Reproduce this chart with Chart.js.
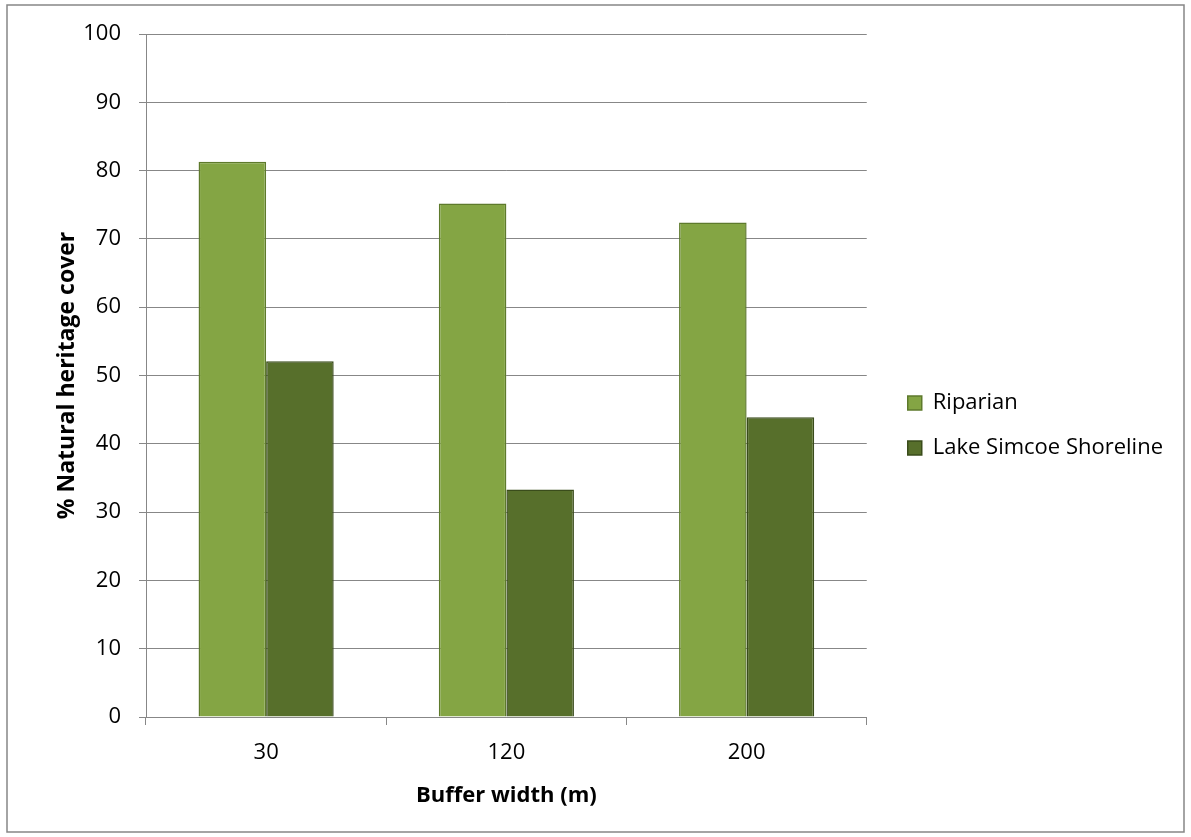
<!DOCTYPE html>
<html>
<head>
<meta charset="utf-8">
<title>Natural heritage cover</title>
<script src="https://cdn.jsdelivr.net/npm/chart.js@4/dist/chart.umd.min.js"></script>
<style>
  body { margin: 0; background: #fff; }
  #chart { display: block; }
</style>
</head>
<body>
<canvas id="chart" width="1191" height="837"></canvas>
<script>
let bufferWidths = ['30', '120', '200'];
let riparian = [81.3, 75.2, 72.4];
let lakeShore = [52.1, 33.3, 43.9];
let seriesNames = ['Riparian', 'Lake Simcoe Shoreline'];

let gray = '#878787';
let fontName = '"Open Sans", Lato, sans-serif';

// outer frame around the whole chart
let framePlugin = {
  id: 'frame',
  afterDraw(chart) {
    let ctx = chart.ctx;
    ctx.save();
    ctx.strokeStyle = '#868686';
    ctx.lineWidth = 1.5;
    ctx.strokeRect(7, 5, 1177, 827);
    ctx.restore();
  }
};

Chart.defaults.font.family = fontName;
Chart.defaults.color = '#000';

let canvas = document.getElementById('chart');

new Chart(canvas, {
  type: 'bar',
  data: {
    labels: bufferWidths,
    datasets: [{
      label: seriesNames[0],
      data: riparian,
      backgroundColor: '#84a544',
      borderColor: '#5e7a2c',
      borderWidth: 1.5
    }, {
      label: seriesNames[1],
      data: lakeShore,
      backgroundColor: '#576f2b',
      borderColor: '#3a4c1b',
      borderWidth: 1.5
    }]
  },
  options: {
    responsive: false,
    animation: false,
    layout: {
      padding: { top: 34, left: 0, right: 18, bottom: 20 }
    },
    datasets: {
      bar: { categoryPercentage: 0.5625, barPercentage: 1 }
    },
    plugins: {
      tooltip: { enabled: false },
      legend: {
        position: 'right',
        labels: {
          boxWidth: 14,
          boxHeight: 14,
          padding: 23,
          font: { size: 22 }
        }
      }
    },
    scales: {
      x: {
        grid: { drawOnChartArea: false, drawTicks: true, tickLength: 8, color: gray },
        border: { color: gray },
        ticks: { font: { size: 22 }, padding: 15 },
        title: {
          display: true,
          text: 'Buffer width (m)',
          font: { size: 22, weight: 'bold' },
          padding: { top: 0, bottom: 8 }
        },
        afterFit(scale) { scale.height = 100; }
      },
      y: {
        min: 0,
        max: 100,
        ticks: { stepSize: 10, font: { size: 22 }, padding: 18 },
        grid: { color: gray, tickLength: 7 },
        border: { color: gray },
        title: {
          display: true,
          text: '% Natural heritage cover',
          font: { size: 23, weight: 'bold' },
          padding: { top: 54, bottom: 0 }
        },
        afterFit(scale) { scale.width = 146; }
      },
      gap: {
        position: 'right',
        display: false,
        afterFit(scale) { scale.width = 18; }
      }
    }
  },
  plugins: [framePlugin]
});
</script>
</body>
</html>
